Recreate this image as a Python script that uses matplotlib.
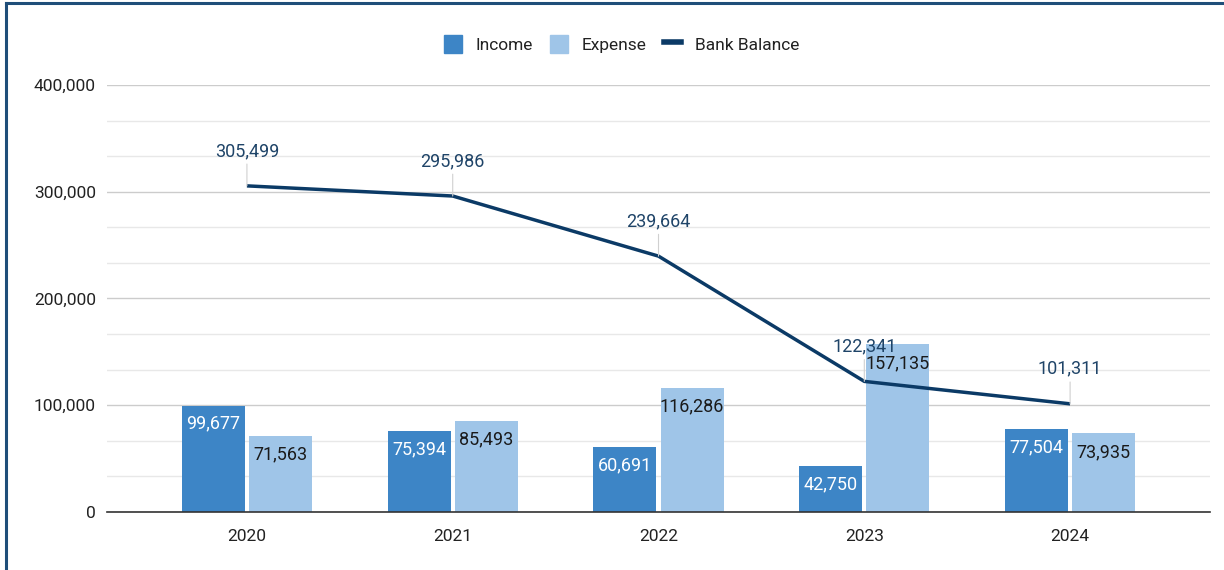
import matplotlib.pyplot as plt
from matplotlib.patches import Patch
from matplotlib.lines import Line2D
from matplotlib.ticker import FuncFormatter, MultipleLocator
import numpy as np

plt.rcParams['font.family'] = ['Roboto', 'DejaVu Sans']

years = ['2020', '2021', '2022', '2023', '2024']
income = [99677, 75394, 60691, 42750, 77504]
expense = [71563, 85493, 116286, 157135, 73935]
balance = [305499, 295986, 239664, 122341, 101311]

income_color = '#3d85c6'
expense_color = '#9fc5e8'
line_color = '#0b3a66'

fig = plt.figure(figsize=(12.24, 5.70), dpi=100)
ax = fig.add_axes([0.0874, 0.1018, 0.9012, 0.7491])

x = np.arange(len(years))
w = 0.306
off = 0.163

b1 = ax.bar(x - off, income, w, color=income_color, zorder=3)
b2 = ax.bar(x + off, expense, w, color=expense_color, zorder=3)

for rect, v in zip(b1, income):
    ax.annotate(f'{v:,}', (rect.get_x() + rect.get_width() / 2, v),
                xytext=(0, -18), textcoords='offset pixels',
                ha='center', va='center', fontsize=13, color='white', zorder=5)
for rect, v in zip(b2, expense):
    ax.annotate(f'{v:,}', (rect.get_x() + rect.get_width() / 2, v),
                xytext=(0, -19), textcoords='offset pixels',
                ha='center', va='center', fontsize=13, color='#1a1a1a', zorder=5)

ax.plot(x, balance, color=line_color, lw=2.5, zorder=4, solid_capstyle='butt')
for xi, v in zip(x, balance):
    ax.annotate(f'{v:,}', (xi, v), xytext=(0, 35), textcoords='offset pixels',
                ha='center', va='center', fontsize=13, color='#1f4468', zorder=6,
                arrowprops=dict(arrowstyle='-', color='#d0d0d0', lw=0.8,
                                shrinkA=1, shrinkB=0))

ax.set_xlim(-0.68, 4.68)
ax.set_ylim(0, 400000)
ax.set_xticks(x)
ax.set_xticklabels(years)
ax.yaxis.set_major_locator(MultipleLocator(100000))
ax.yaxis.set_minor_locator(MultipleLocator(100000 / 3))
ax.yaxis.set_major_formatter(FuncFormatter(lambda v, p: f'{int(v):,}'))
ax.grid(axis='y', which='major', color='#cccccc', lw=1, zorder=0)
ax.grid(axis='y', which='minor', color='#e8e8e8', lw=1, zorder=0)
ax.tick_params(axis='both', which='both', length=0, labelsize=12.5, colors='#222222')
ax.tick_params(axis='y', pad=8)
ax.tick_params(axis='x', pad=12)
for s in ['top', 'right', 'left']:
    ax.spines[s].set_visible(False)
ax.spines['bottom'].set_color('#333333')
ax.spines['bottom'].set_linewidth(1.2)
ax.spines['bottom'].set_zorder(5)

handles = [Patch(color=income_color), Patch(color=expense_color),
           Line2D([0], [0], color=line_color, lw=4)]
fig.legend(handles, ['Income', 'Expense', 'Bank Balance'], loc='center',
           bbox_to_anchor=(0.508, 0.923), ncol=3, frameon=False, fontsize=12.5,
           handlelength=1.0, handleheight=1.2, columnspacing=1.0,
           handletextpad=0.8, labelcolor='#222222')

# dark frame along the top and left edges
fig.add_artist(Line2D([0.0049, 1.0], [0.9947, 0.9947], color='#1f4e79', lw=2.2))
fig.add_artist(Line2D([0.0049, 0.0049], [0.0, 0.9947], color='#1f4e79', lw=2.2))

fig.savefig('out.png', dpi=100)
